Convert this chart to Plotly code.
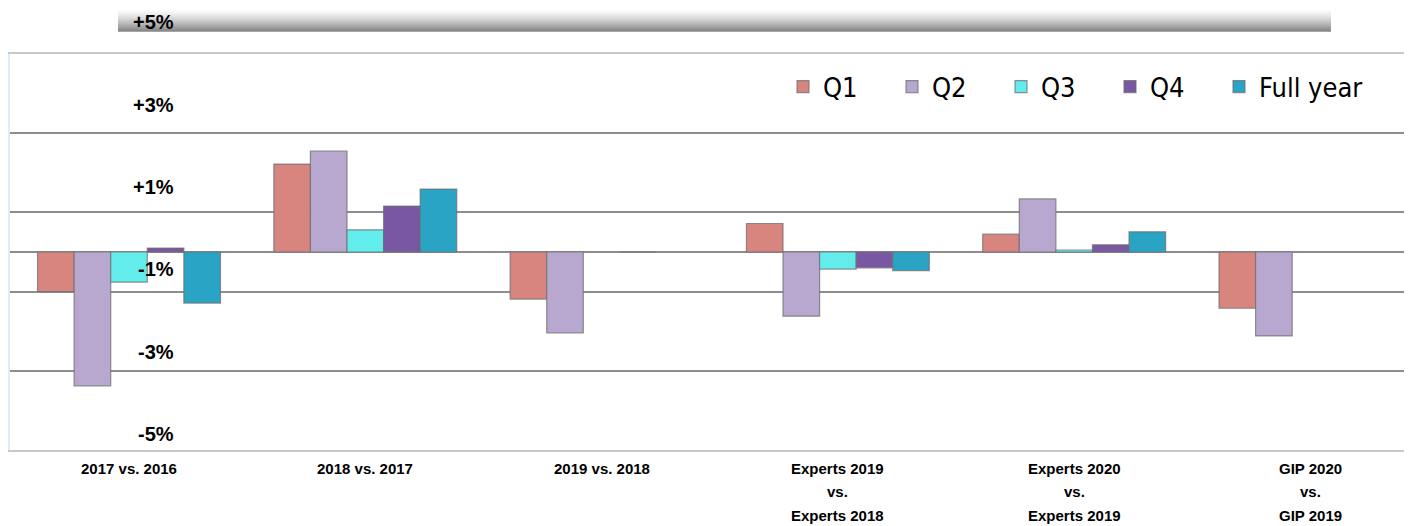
import plotly.graph_objects as go

categories = ["2017 vs. 2016", "2018 vs. 2017", "2019 vs. 2018",
              "Experts 2019<br>vs.<br>Experts 2018",
              "Experts 2020<br>vs.<br>Experts 2019",
              "GIP 2020<br>vs.<br>GIP 2019"]
q1 = [-1.00, 2.22, -1.19, 0.72, 0.45, -1.42]
q2 = [-3.38, 2.55, -2.04, -1.62, 1.34, -2.12]
q3 = [-0.76, 0.56, None, -0.43, 0.05, None]
q4 = [0.10, 1.16, 0.0, -0.40, 0.18, None]
full_year = [-1.29, 1.59, None, -0.47, 0.51, None]

series_names = ["Q1", "Q2", "Q3", "Q4", "Full year"]
series_values = [q1, q2, q3, q4, full_year]
series_colors = ["#D9857F", "#B8A8CF", "#62ECEC", "#7A57A3", "#2AA4C4"]

tick_values = [5, 3, 1, -1, -3, -5]
tick_labels = ["+5%", "+3%", "+1%", "-1%", "-3%", "-5%"]

SANS = "Liberation Sans, Arial, sans-serif"
COND = "DejaVu Sans Condensed, Liberation Sans, sans-serif"

W, H = 1404, 526
ml, mr, mt, mb = 2, 0, 46, 84
plot_w = W - ml - mr
plot_h = H - mt - mb
plot_bottom = H - mb


def px_to_paper_y(fy):
    return (plot_bottom - fy) / plot_h


def px_to_paper_x(fx):
    return (fx - ml) / plot_w


fig = go.Figure()
x_idx = list(range(len(categories)))
for name, vals, col in zip(series_names, series_values, series_colors):
    fig.add_trace(go.Bar(
        x=x_idx, y=vals, name=name,
        marker=dict(color=col, line=dict(color="rgba(110,110,110,0.75)", width=1.2)),
    ))
# invisible spacer legend entry (scatter, so it takes no bar slot) so that
# the last legend label is not clipped
fig.add_trace(go.Scatter(x=[None], y=[None], name=" ", mode="markers", hoverinfo="skip",
                         marker=dict(color="rgba(0,0,0,0)", size=1)))

# grey gradient band at the top
band_x0, band_x1 = 110, 1323
for fy in range(-8, 24):
    wy = fy + 8
    if wy < 10:
        g = 255
    elif wy <= 30:
        t = (wy - 10) / 20
        g = int(round(250 - (250 - 136) * t ** 1.3))
    else:
        g = 165
    fig.add_shape(type="rect", xref="paper", yref="paper",
                  x0=px_to_paper_x(band_x0), x1=px_to_paper_x(band_x1),
                  y0=px_to_paper_y(fy + 1), y1=px_to_paper_y(fy),
                  fillcolor=f"rgb({g},{g},{g})", line=dict(width=0), layer="below")

# y value labels (sit above their gridlines, as in the original)
for v, lab in zip(tick_values, tick_labels):
    fig.add_annotation(x=px_to_paper_x(168), xref="paper",
                       y=(v * 1.04 + 0.6 + 5) / 10, yref="paper",
                       text=lab, showarrow=False, xanchor="right", yanchor="middle",
                       font=dict(family=SANS, size=20, color="#000000", weight="bold"))

# category labels, one annotation per line for the wide line spacing
line_y = [460, 484, 507]
for i, cat in enumerate(categories):
    for k, line in enumerate(cat.split("<br>")):
        fig.add_annotation(x=i, xref="x", y=px_to_paper_y(line_y[k]), yref="paper",
                           text=line, showarrow=False, xanchor="center", yanchor="middle",
                           font=dict(family=SANS, size=15, color="#000000", weight="bold"))

fig.update_layout(
    width=W, height=H,
    margin=dict(l=ml, r=mr, t=mt, b=mb, autoexpand=False),
    paper_bgcolor="white", plot_bgcolor="white",
    barmode="group", bargap=0.226, bargroupgap=0.0,
    showlegend=True,
    legend=dict(orientation="h", x=px_to_paper_x(775), xanchor="left",
                y=px_to_paper_y(79), yanchor="middle",
                font=dict(family=COND, size=27, color="#000000"),
                bgcolor="rgba(0,0,0,0)", entrywidth=64, entrywidthmode="pixels",
                traceorder="normal"),
    xaxis=dict(range=[-0.5036, 5.4297], tickmode="array", tickvals=x_idx,
               showticklabels=False,
               showgrid=False, zeroline=False, showline=True, mirror=True,
               linecolor="#C8C8C8", linewidth=2, ticks=""),
    yaxis=dict(range=[-5, 5], tickmode="array", tickvals=[-3, -1, 1, 3],
               showticklabels=False, showgrid=True, gridcolor="#8E8E8E", gridwidth=1.5,
               zeroline=True, zerolinecolor="#8E8E8E", zerolinewidth=1.5,
               showline=True, linecolor="#DCEEF8", linewidth=2, ticks=""),
)

fig.write_html("out.html")
